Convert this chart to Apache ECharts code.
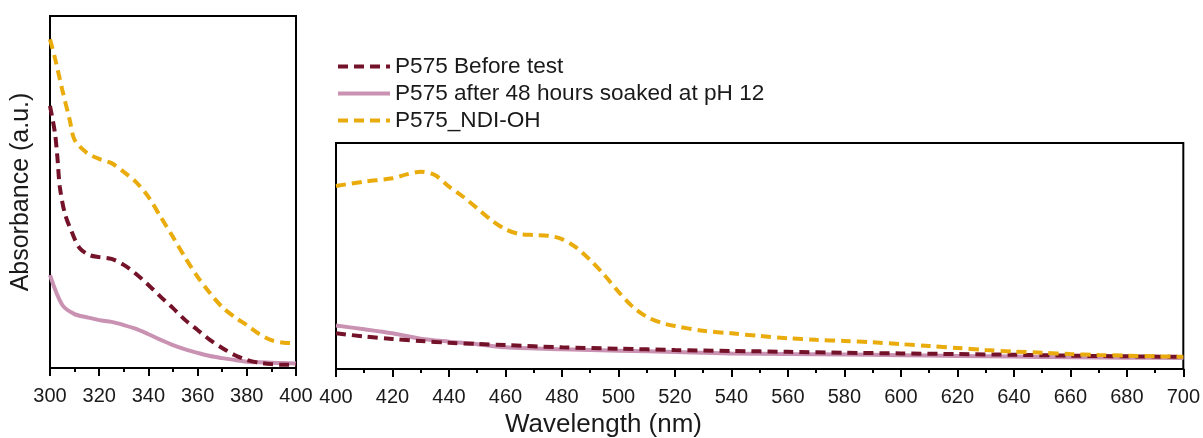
<!DOCTYPE html>
<html>
<head>
<meta charset="utf-8">
<script src="https://cdn.jsdelivr.net/npm/echarts@6/dist/echarts.min.js"></script>
<style>
  html, body { margin: 0; padding: 0; background: #fff; }
  #chart { width: 1203px; height: 438px; }
</style>
</head>
<body>
<div id="chart"></div>
<script>
// Series names
const seriesNames = ['P575 Before test', 'P575 after 48 hours soaked at pH 12', 'P575_NDI-OH'];

// UV region (300–400 nm), absorbance in arbitrary units
const uvWlBefore = [300, 302, 303, 304, 306, 309, 312, 316, 320, 325, 330, 335, 340, 345, 350, 355, 360, 365, 370, 375, 380, 385, 390, 395, 400];
const uvBefore   = [0.745, 0.668, 0.599, 0.514, 0.440, 0.384, 0.341, 0.321, 0.315, 0.310, 0.293, 0.267, 0.236, 0.202, 0.170, 0.136, 0.108, 0.080, 0.057, 0.037, 0.023, 0.015, 0.011, 0.009, 0.009];

const uvWl      = [300, 305, 310, 315, 320, 325, 330, 335, 340, 345, 350, 355, 360, 365, 370, 375, 380, 385, 390, 395, 400];
const uvSoaked  = [0.264, 0.179, 0.153, 0.144, 0.136, 0.131, 0.122, 0.111, 0.096, 0.080, 0.065, 0.053, 0.043, 0.034, 0.028, 0.023, 0.018, 0.016, 0.015, 0.014, 0.013];

const uvWlNdi   = [300, 302, 305, 308, 310, 315, 320, 325, 330, 335, 340, 345, 350, 355, 360, 365, 370, 375, 380, 385, 390, 395, 400];
const uvNdi     = [0.934, 0.881, 0.790, 0.705, 0.648, 0.611, 0.594, 0.582, 0.557, 0.528, 0.486, 0.429, 0.372, 0.313, 0.259, 0.213, 0.173, 0.145, 0.122, 0.097, 0.079, 0.072, 0.071];

// Visible region (400–700 nm)
const visWl       = [400, 410, 420, 430, 440, 450, 460, 480, 500, 520, 540, 560, 580, 600, 620, 640, 660, 680, 700];
const visBefore   = [0.158, 0.144, 0.133, 0.124, 0.116, 0.111, 0.106, 0.096, 0.090, 0.084, 0.080, 0.076, 0.072, 0.069, 0.066, 0.063, 0.059, 0.056, 0.054];
const visSoaked   = [0.192, 0.176, 0.158, 0.134, 0.121, 0.110, 0.096, 0.087, 0.081, 0.075, 0.069, 0.066, 0.064, 0.061, 0.058, 0.055, 0.052, 0.050, 0.049];

const visWlNdi = [400, 410, 420, 425, 430, 435, 440, 445, 450, 455, 460, 465, 470, 475, 480, 485, 490, 495, 500, 505, 510, 515, 520, 530, 540, 550, 560, 570, 580, 590, 600, 610, 620, 630, 640, 650, 660, 670, 680, 690, 700];
const visNdi   = [0.810, 0.829, 0.844, 0.861, 0.873, 0.858, 0.807, 0.762, 0.711, 0.659, 0.618, 0.597, 0.593, 0.590, 0.575, 0.538, 0.482, 0.416, 0.342, 0.276, 0.231, 0.205, 0.190, 0.169, 0.158, 0.146, 0.136, 0.129, 0.124, 0.118, 0.110, 0.102, 0.093, 0.084, 0.077, 0.072, 0.066, 0.062, 0.059, 0.056, 0.054];

// Axis ranges: [min, max, interval]
const xTicks = { uv: [300, 400, 20], vis: [400, 700, 20] };

const colors = { before: '#74122a', soaked: '#c992b2', ndi: '#e9ac0c' };
const FONT = '"Liberation Sans", Arial, Helvetica, sans-serif';
const LINE_W = 4;
const DASH = [10, 6];

function pairs(xs, ys) { return xs.map((x, i) => [x, ys[i]]); }

function xAxisFor(gridIndex, range) {
  return {
    type: 'value', gridIndex: gridIndex,
    min: range[0], max: range[1], interval: range[2],
    axisLine: { show: true, onZero: false, lineStyle: { color: '#000', width: 2 } },
    axisTick: { show: true, inside: false, length: 8, lineStyle: { color: '#000', width: 2 } },
    minorTick: { show: true, splitNumber: 2, length: 4, lineStyle: { color: '#000', width: 2 } },
    axisLabel: { color: '#1a1a1a', fontSize: 20, fontFamily: FONT, margin: 18 },
    splitLine: { show: false }
  };
}

function yAxisFor(gridIndex, max, name) {
  return {
    type: 'value', gridIndex: gridIndex, min: 0, max: max,
    name: name || '', nameLocation: 'middle', nameGap: 16,
    nameTextStyle: { color: '#1a1a1a', fontSize: 25, fontFamily: FONT },
    axisLine: { show: false }, axisTick: { show: false },
    axisLabel: { show: false }, splitLine: { show: false }
  };
}

function lineSeries(name, idx, data, color, dashed) {
  return {
    name: name, type: 'line', xAxisIndex: idx, yAxisIndex: idx,
    data: data, smooth: 0.3, symbol: 'none', showSymbol: false,
    clip: true, z: dashed ? 3 : 2,
    lineStyle: { color: color, width: LINE_W, type: dashed ? DASH : 'solid' },
    itemStyle: { color: color }
  };
}

const chart = echarts.init(document.getElementById('chart'), null, { renderer: 'canvas' });

chart.setOption({
  animation: false,
  backgroundColor: '#fff',
  grid: [
    { left: 50, top: 16, width: 246, height: 352, show: true, borderColor: '#000', borderWidth: 2, backgroundColor: 'transparent' },
    { left: 336, top: 143, width: 848, height: 226, show: true, borderColor: '#000', borderWidth: 2, backgroundColor: 'transparent' }
  ],
  legend: {
    orient: 'vertical', left: 336, top: 55, padding: 0,
    itemWidth: 52, itemHeight: 14, itemGap: 4,
    itemStyle: { opacity: 0 },
    lineStyle: { width: LINE_W },
    textStyle: { color: '#1a1a1a', fontSize: 22.6, fontFamily: FONT },
    data: seriesNames
  },
  xAxis: [xAxisFor(0, xTicks.uv), xAxisFor(1, xTicks.vis)],
  yAxis: [yAxisFor(0, 1, 'Absorbance (a.u.)'), yAxisFor(1, 1)],
  graphic: [{
    type: 'text', left: 505, top: 412,
    style: { text: 'Wavelength (nm)', fill: '#1a1a1a', fontSize: 26, fontFamily: FONT }
  }],
  series: [
    lineSeries(seriesNames[0], 0, pairs(uvWlBefore, uvBefore), colors.before, true),
    lineSeries(seriesNames[1], 0, pairs(uvWl, uvSoaked), colors.soaked, false),
    lineSeries(seriesNames[2], 0, pairs(uvWlNdi, uvNdi), colors.ndi, true),
    lineSeries(seriesNames[0], 1, pairs(visWl, visBefore), colors.before, true),
    lineSeries(seriesNames[1], 1, pairs(visWl, visSoaked), colors.soaked, false),
    lineSeries(seriesNames[2], 1, pairs(visWlNdi, visNdi), colors.ndi, true)
  ]
});
</script>
</body>
</html>
